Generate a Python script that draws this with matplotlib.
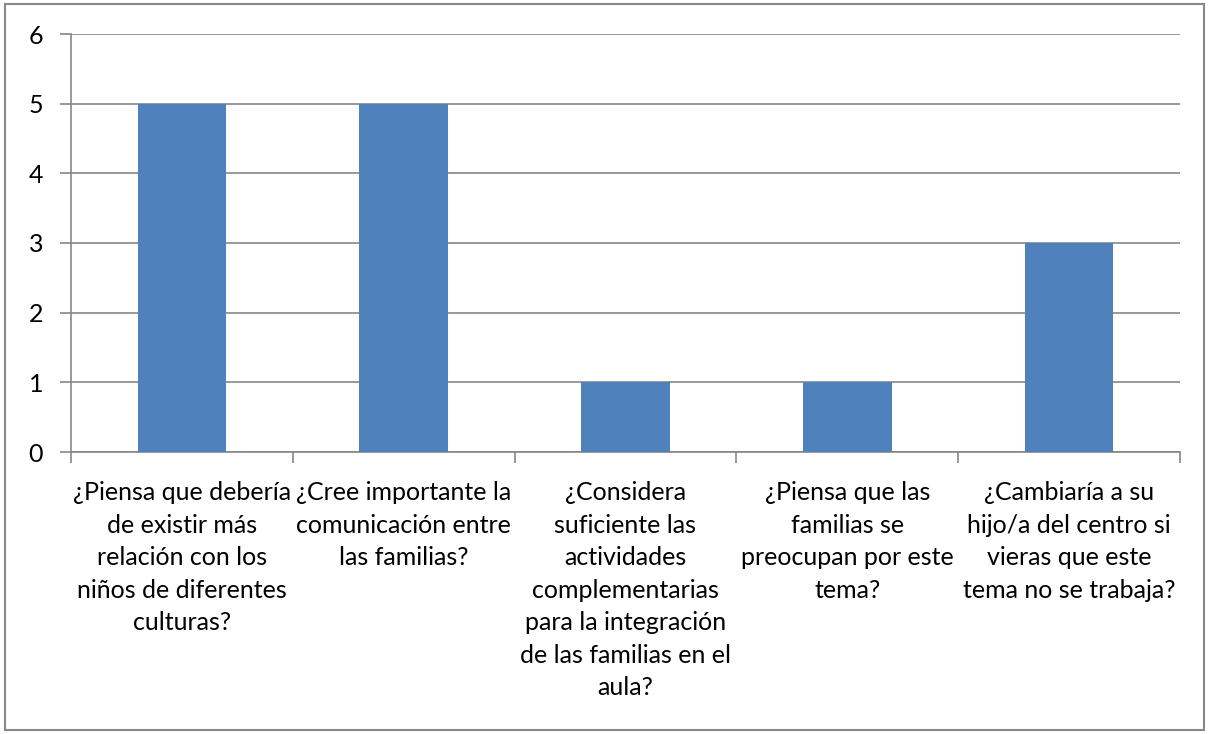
import matplotlib.pyplot as plt
from matplotlib.patches import Rectangle
import numpy as np

# Survey questions and number of answers
questions = [
    "¿Piensa que debería\nde existir más\nrelación con los\nniños de diferentes\nculturas?",
    "¿Cree importante la\ncomunicación entre\nlas familias?",
    "¿Considera\nsuficiente las\nactividades\ncomplementarias\npara la integración\nde las familias en el\naula?",
    "¿Piensa que las\nfamilias se\npreocupan por este\ntema?",
    "¿Cambiaría a su\nhijo/a del centro si\nvieras que este\ntema no se trabaja?",
]
counts = [5, 5, 1, 1, 3]
y_ticks = [0, 1, 2, 3, 4, 5, 6]

plt.rcParams['font.family'] = ['Lato', 'DejaVu Sans']

fig = plt.figure(figsize=(12.09, 7.34), dpi=100)
ax = fig.add_axes([71 / 1209, 1 - 452 / 734, (1180 - 71) / 1209, (452 - 34) / 734])

grid_color = '#868686'
x = np.arange(len(questions))
ax.bar(x, counts, width=0.4, color='#4F81BD', zorder=3)

ax.set_xlim(-0.5, len(questions) - 0.5)
ax.set_ylim(0, 6)
ax.set_yticks(y_ticks)
ax.set_yticklabels([str(v) for v in y_ticks], fontsize=18)
ax.yaxis.grid(True, color=grid_color, linewidth=1.2, zorder=0)

# category labels centered, tick marks at category boundaries
ax.set_xticks(x)
ax.set_xticklabels(questions, fontsize=18, linespacing=1.5)
ax.tick_params(axis='x', length=0, pad=21)
ax.set_xticks(np.arange(len(questions) + 1) - 0.5, minor=True)
ax.tick_params(axis='x', which='minor', length=8, color=grid_color, width=1.2)
ax.tick_params(axis='y', length=8, color=grid_color, width=1.2, pad=12)

for side in ['top', 'right']:
    ax.spines[side].set_visible(False)
for side in ['left', 'bottom']:
    ax.spines[side].set_color(grid_color)
    ax.spines[side].set_linewidth(1.2)

# outer chart border
fig.patches.append(Rectangle((5 / 1209, 4 / 734), 1199 / 1209, 726 / 734,
                             transform=fig.transFigure, fill=False,
                             edgecolor='#888888', linewidth=1.5))

plt.savefig('out.png', dpi=100)
